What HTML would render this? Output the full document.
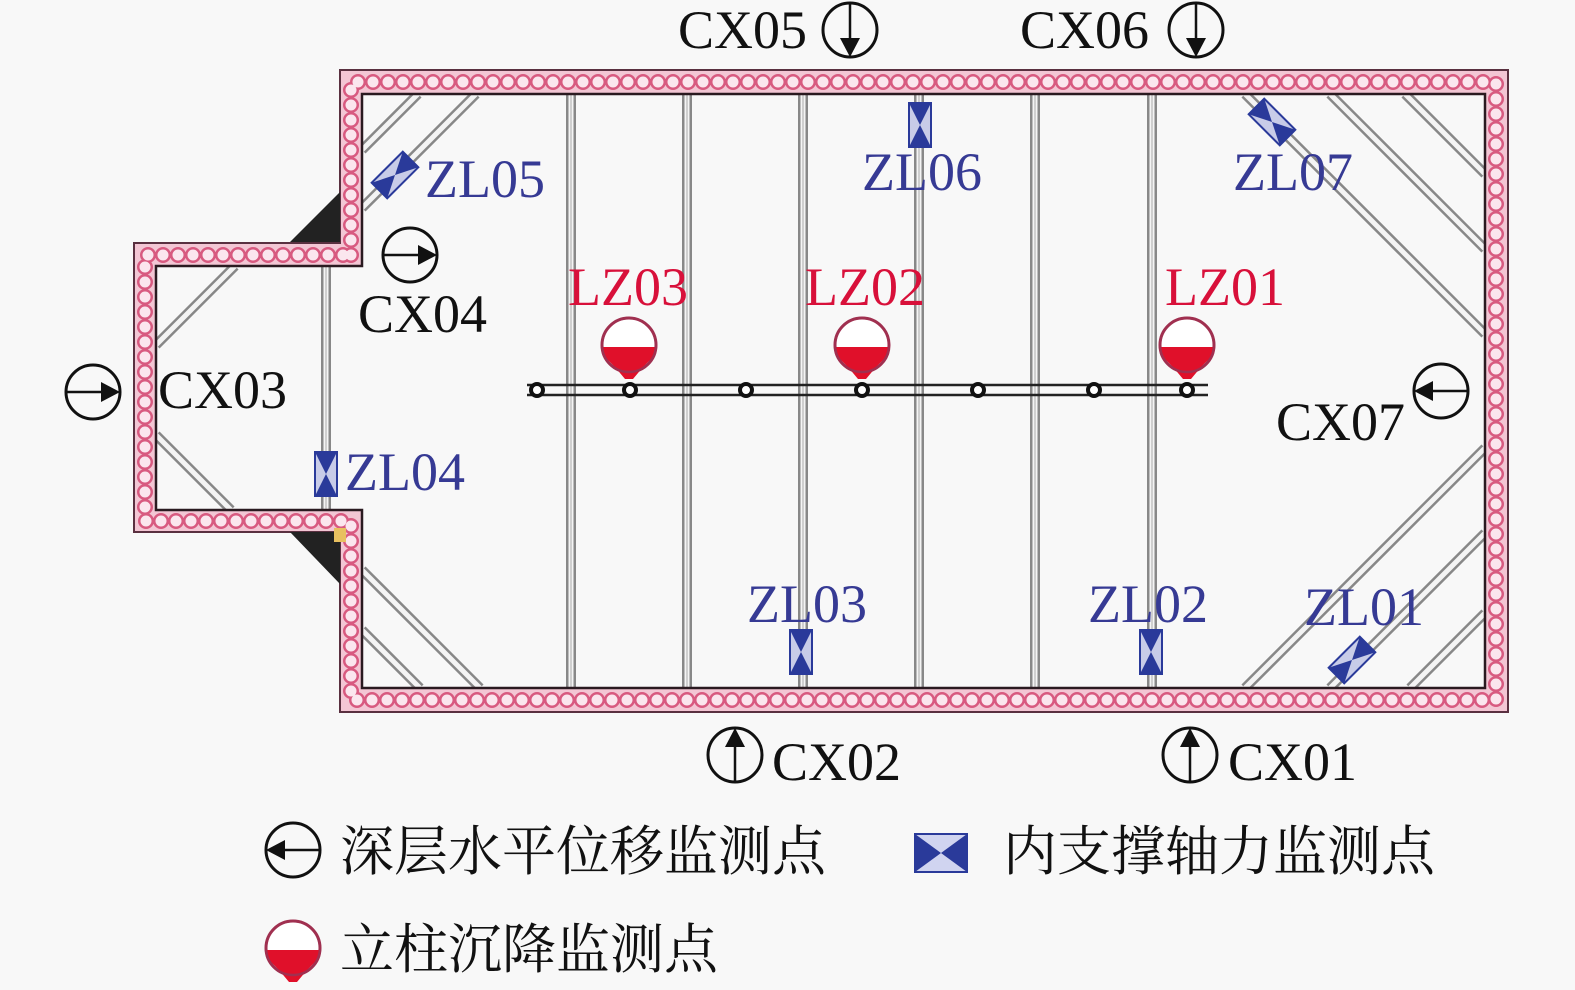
<!DOCTYPE html>
<html><head><meta charset="utf-8"><style>
html,body{margin:0;padding:0;background:#f8f8f8;}
svg{display:block;}
.lat{font-family:"Liberation Serif","Noto Serif CJK SC",serif;font-size:54px;}
.cjk{font-family:"Liberation Serif","Noto Serif CJK SC",serif;font-size:54px;}
</style></head><body>
<svg width="1575" height="990" viewBox="0 0 1575 990" xmlns="http://www.w3.org/2000/svg">
<defs>
  <g id="cx"><circle cx="0" cy="0" r="27" fill="none" stroke="#111" stroke-width="3"/>
    <line x1="-27" y1="0" x2="12" y2="0" stroke="#111" stroke-width="2.5"/>
    <polygon points="27,0 8,-10 8,10" fill="#111"/></g>
  <g id="zl"><rect x="-11" y="-22" width="22" height="44" fill="#c8cce8" stroke="#2a3a9a" stroke-width="2"/>
    <polygon points="-11,-22 11,-22 0,0" fill="#2a3a9a"/><polygon points="-11,22 11,22 0,0" fill="#2a3a9a"/></g>
  <g id="lz"><circle cx="0" cy="0" r="27" fill="#fff" stroke="#a03050" stroke-width="3"/>
    <path d="M-26,2 L26,2 L24,12 L14,22 L4,34 L-4,34 L-14,22 L-24,12 Z" fill="#e0102a"/>
    <circle cx="0" cy="0" r="27" fill="none" stroke="#a03050" stroke-width="2.5"/></g>
</defs>
<rect width="1575" height="990" fill="#f8f8f8"/>

<!-- struts -->
<g fill="none">
 <g stroke="#888" stroke-width="10">
  <path d="M571,94V688M687,94V688M803,94V688M919,94V688M1035,94V688M1152,94V688M326,266V510"/>
  <path d="M362,208L476,94M362,150L418,94M156,345L235,266M156,435L231,510M362,570L480,688M362,630L420,688"/>
  <path d="M1245,94L1485,334M1330,94L1485,249M1405,94L1485,174M1245,688L1485,448M1330,688L1485,533M1410,688L1485,613"/>
 </g>
 <g stroke="#f4f4f4" stroke-width="5">
  <path d="M571,94V688M687,94V688M803,94V688M919,94V688M1035,94V688M1152,94V688M326,266V510"/>
  <path d="M362,208L476,94M362,150L418,94M156,345L235,266M156,435L231,510M362,570L480,688M362,630L420,688"/>
  <path d="M1245,94L1485,334M1330,94L1485,249M1405,94L1485,174M1245,688L1485,448M1330,688L1485,533M1410,688L1485,613"/>
 </g>
 <g stroke="#aaa" stroke-width="1">
  <path d="M571,94V688M687,94V688M803,94V688M919,94V688M1035,94V688M1152,94V688M326,266V510"/>
 </g>
</g>

<!-- wall -->
<path d="M351,255 L351,82 L1496,82 L1496,700 L351,700 L351,521 L145,521 L145,255 Z" fill="none" stroke="#f3c6d4" stroke-width="22" stroke-linejoin="miter"/>
<path d="M351,255 L351,82 L1496,82 L1496,700 L351,700 L351,521 L145,521 L145,255 Z" fill="none" stroke="#d85a80" stroke-width="16" stroke-dasharray="0 15" stroke-linecap="round"/>
<path d="M351,255 L351,82 L1496,82 L1496,700 L351,700 L351,521 L145,521 L145,255 Z" fill="none" stroke="#fbe6ee" stroke-width="11" stroke-dasharray="0 15" stroke-linecap="round"/>
<path d="M340,243 L340,70 L1508,70 L1508,712 L340,712 L340,532 L134,532 L134,243 Z" fill="none" stroke="#5a3040" stroke-width="2"/>
<path d="M362,266 L362,94 L1485,94 L1485,688 L362,688 L362,510 L156,510 L156,266 Z" fill="none" stroke="#2a1a20" stroke-width="2.5"/>

<!-- corner fills -->
<polygon points="290,242 340,192 340,242" fill="#222"/>
<polygon points="290,532 340,532 340,584" fill="#222"/>
<rect x="334" y="528" width="12" height="14" fill="#e8c060"/>

<!-- horizontal beam -->
<line x1="527" y1="385" x2="1208" y2="385" stroke="#222" stroke-width="2.5"/>
<line x1="527" y1="395" x2="1208" y2="395" stroke="#222" stroke-width="2.5"/>
<g fill="#fff" stroke="#111" stroke-width="4">
 <circle cx="537" cy="390" r="6"/><circle cx="630" cy="390" r="6"/><circle cx="746" cy="390" r="6"/><circle cx="862" cy="390" r="6"/><circle cx="978" cy="390" r="6"/><circle cx="1094" cy="390" r="6"/><circle cx="1187" cy="390" r="6"/>
</g>

<!-- LZ -->
<use href="#lz" x="629" y="345"/><use href="#lz" x="862" y="345"/><use href="#lz" x="1187" y="345"/>
<g class="lat" fill="#d8103a"><text x="568" y="305">LZ03</text><text x="805" y="305">LZ02</text><text x="1165" y="305">LZ01</text></g>

<!-- ZL icons -->
<use href="#zl" x="920" y="125"/><use href="#zl" x="326" y="474"/><use href="#zl" x="801" y="652"/><use href="#zl" x="1151" y="652"/>
<use href="#zl" transform="translate(395,175) rotate(45)"/>
<use href="#zl" transform="translate(1272,122) rotate(-45)"/>
<use href="#zl" transform="translate(1352,660) rotate(45)"/>
<g class="lat" fill="#363a94"><text x="425" y="197">ZL05</text><text x="862" y="190">ZL06</text><text x="1233" y="190">ZL07</text><text x="345" y="490">ZL04</text><text x="747" y="622">ZL03</text><text x="1088" y="622">ZL02</text><text x="1304" y="625">ZL01</text></g>

<!-- CX -->
<use href="#cx" transform="translate(850,30) rotate(90)"/>
<use href="#cx" transform="translate(1196,30) rotate(90)"/>
<use href="#cx" transform="translate(410,255)"/>
<use href="#cx" transform="translate(93,392)"/>
<use href="#cx" transform="translate(1441,391) rotate(180)"/>
<use href="#cx" transform="translate(735,755) rotate(-90)"/>
<use href="#cx" transform="translate(1190,755) rotate(-90)"/>
<g class="lat" fill="#111"><text x="678" y="48">CX05</text><text x="1020" y="48">CX06</text><text x="358" y="332">CX04</text><text x="158" y="408">CX03</text><text x="1276" y="440">CX07</text><text x="772" y="780">CX02</text><text x="1228" y="780">CX01</text></g>

<!-- legend -->
<use href="#cx" transform="translate(293,850) rotate(180)"/>
<text class="cjk" x="340" y="870" fill="#111">深层水平位移监测点</text>
<g transform="translate(941,853)"><rect x="-26" y="-19" width="52" height="38" fill="#d0d4f0" stroke="#2a3a9a" stroke-width="2"/>
 <polygon points="-26,-19 -26,19 0,0" fill="#2a3a9a"/><polygon points="26,-19 26,19 0,0" fill="#2a3a9a"/></g>
<text class="cjk" x="1003" y="870" fill="#111">内支撑轴力监测点</text>
<use href="#lz" x="293" y="948"/>
<text class="cjk" x="340" y="968" fill="#111">立柱沉降监测点</text>
</svg>
</body></html>
